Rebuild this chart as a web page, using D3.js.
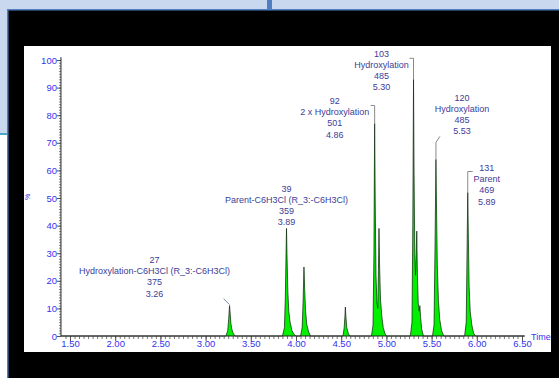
<!DOCTYPE html>
<html>
<head>
<meta charset="utf-8">
<script src="https://cdn.jsdelivr.net/npm/d3@7/dist/d3.min.js"></script>
<style>
  html, body { margin: 0; padding: 0; background: #000; }
  svg { display: block; }
</style>
</head>
<body>
<svg id="chart" width="559" height="378"></svg>
<script>
// ---------------- DATA ----------------
const xTickValues = [1.5, 2.0, 2.5, 3.0, 3.5, 4.0, 4.5, 5.0, 5.5, 6.0, 6.5];
const yTickValues = [0, 10, 20, 30, 40, 50, 60, 70, 80, 90, 100];

// chromatogram trace: [retention time (min), relative intensity (%)]
const trace = [
  [1.40, 0], [3.225, 0], [3.245, 2], [3.255, 6], [3.265, 11], [3.272, 8], [3.28, 4.5], [3.29, 2.5], [3.305, 1], [3.325, 0],
  [3.85, 0], [3.872, 3], [3.882, 14], [3.89, 30], [3.895, 39], [3.90, 30], [3.91, 16], [3.92, 9], [3.935, 5], [3.955, 2], [3.98, 0.5], [4.00, 0],
  [4.05, 0], [4.068, 3], [4.078, 12], [4.088, 25], [4.096, 17], [4.106, 9], [4.12, 4], [4.14, 1.5], [4.16, 0],
  [4.52, 0], [4.533, 3], [4.541, 7], [4.546, 10.5], [4.552, 7], [4.562, 3], [4.58, 0.8], [4.595, 0],
  [4.835, 0], [4.852, 4], [4.862, 30], [4.87, 77], [4.876, 50], [4.885, 22], [4.895, 12], [4.905, 10], [4.912, 24], [4.918, 39], [4.925, 25], [4.935, 13], [4.95, 7], [4.965, 3], [4.985, 0.8], [5.00, 0],
  [5.265, 0], [5.283, 5], [5.292, 40], [5.30, 93], [5.306, 60], [5.314, 30], [5.322, 22], [5.33, 30], [5.336, 38], [5.343, 22], [5.352, 12], [5.362, 9], [5.37, 11], [5.378, 7], [5.39, 2.5], [5.41, 0],
  [5.51, 0], [5.527, 4], [5.537, 30], [5.548, 64], [5.555, 45], [5.563, 26], [5.575, 13], [5.59, 6], [5.61, 2], [5.635, 0],
  [5.865, 0], [5.883, 5], [5.892, 30], [5.90, 52], [5.907, 35], [5.915, 18], [5.927, 9], [5.945, 4], [5.965, 1], [5.985, 0],
  [6.53, 0]
];

// peak annotations
const annTimes  = [3.265, 3.895, 4.87, 5.30, 5.548, 5.90];
const annScans  = ["27", "39", "92", "103", "120", "131"];
const annNames  = ["Hydroxylation-C6H3Cl (R_3:-C6H3Cl)", "Parent-C6H3Cl (R_3:-C6H3Cl)", "2 x Hydroxylation", "Hydroxylation", "Hydroxylation", "Parent"];
const annMasses = ["375", "359", "501", "485", "485", "469"];
const annRTs    = ["3.26", "3.89", "4.86", "5.30", "5.53", "5.89"];

// ---------------- LAYOUT ----------------
// label placement relative to the peak apex (pixels) and leader style
const annLayout = [
  { dx: -75, dy: -46, leader: "diag",  lx1: -6, ly1: -7 },
  { dx: 0,   dy: -40, leader: "none" },
  { dx: -40, dy: -23, leader: "bracketL", by: -18 },
  { dx: -32, dy: -26, leader: "bracketL", by: -21 },
  { dx: 26,  dy: -62, leader: "diagUp", top: -17 },
  { dx: 19,  dy: -25, leader: "bracketR", by: -21 }
];

const svg = d3.select("#chart");
const W = 559, H = 378;

// window background pieces
svg.append("rect").attr("x", 0).attr("y", 0).attr("width", W).attr("height", H).attr("fill", "#000");
svg.append("rect").attr("x", 0).attr("y", 0).attr("width", W).attr("height", 9).attr("fill", "#c9d8ef");
svg.append("rect").attr("x", 0).attr("y", 9).attr("width", W).attr("height", 1.5).attr("fill", "#4f7fc2");
svg.append("rect").attr("x", 0).attr("y", 0).attr("width", 7).attr("height", 134).attr("fill", "#c9d8ef");
svg.append("rect").attr("x", 0).attr("y", 134).attr("width", 7).attr("height", H - 134).attr("fill", "#ffffff");
svg.append("rect").attr("x", 0).attr("y", 133).attr("width", 7).attr("height", 2).attr("fill", "#4aa8c4");
svg.append("rect").attr("x", 7).attr("y", 9).attr("width", 1.5).attr("height", H - 9).attr("fill", "#4f7fc2");
svg.append("rect").attr("x", 267).attr("y", 0).attr("width", 5).attr("height", 9).attr("fill", "#4f7fc2");

// white plot panel
svg.append("rect").attr("x", 24).attr("y", 46).attr("width", 527).attr("height", 306).attr("fill", "#ffffff");

// scales
const x = d3.scaleLinear().domain([1.5, 6.5]).range([70, 522]);
const y = d3.scaleLinear().domain([0, 100]).range([336, 60]);

const axisColor = "#3333ee";
const FONT = "Liberation Sans, Arial, sans-serif";

// chromatogram
const area = d3.area().x(d => x(d[0])).y0(y(0)).y1(d => y(d[1]));
const line = d3.line().x(d => x(d[0])).y(d => y(d[1]));
svg.append("path").datum(trace).attr("d", area).attr("fill", "#00f000");
svg.append("path").datum(trace).attr("d", line).attr("fill", "none")
  .attr("stroke", "#0a200a").attr("stroke-width", 0.7);

// axes
const gx = svg.append("g").attr("transform", `translate(0,${y(0)})`);
gx.call(d3.axisBottom(x).tickValues(d3.range(1.45, 6.54, 0.05)).tickSize(3).tickFormat(""));
gx.selectAll(".tick line").attr("stroke", "#777");
const gxM = svg.append("g").attr("transform", `translate(0,${y(0)})`);
gxM.call(d3.axisBottom(x).tickValues(xTickValues).tickSize(5).tickFormat(d3.format(".2f")));
[gx, gxM].forEach(g => g.select(".domain").remove());
gxM.selectAll(".tick line").attr("stroke", "#555");
gxM.selectAll(".tick text").attr("fill", axisColor).attr("font-family", FONT)
  .attr("font-size", 9.5).attr("dy", "0.55em").attr("y", 6);

const gy = svg.append("g").attr("transform", `translate(${x(1.40)},0)`);
gy.call(d3.axisLeft(y).tickValues(d3.range(0, 100.5, 1)).tickSize(2).tickFormat(""));
gy.selectAll(".tick line").attr("stroke", "#888");
const gyM = svg.append("g").attr("transform", `translate(${x(1.40)},0)`);
gyM.call(d3.axisLeft(y).tickValues(yTickValues).tickSize(4).tickFormat(d3.format("d")));
[gy, gyM].forEach(g => g.select(".domain").remove());
gyM.selectAll(".tick line").attr("stroke", "#555");
gyM.selectAll(".tick text").attr("fill", axisColor).attr("font-family", FONT)
  .attr("font-size", 9.5).attr("x", -4);

// axis lines
svg.append("line").attr("x1", x(1.40)).attr("x2", x(1.40)).attr("y1", y(101)).attr("y2", y(0))
  .attr("stroke", "#222").attr("stroke-width", 1);
svg.append("line").attr("x1", x(1.40)).attr("x2", x(6.53)).attr("y1", y(0)).attr("y2", y(0))
  .attr("stroke", "#222").attr("stroke-width", 1);

svg.append("text").attr("x", 531).attr("y", y(0) + 4).text("Time")
  .attr("fill", axisColor).attr("font-family", FONT).attr("font-size", 9);
svg.append("text").attr("transform", `translate(30,197) rotate(-90)`).attr("text-anchor", "middle").text("%")
  .attr("fill", axisColor).attr("font-family", FONT).attr("font-size", 7);

// annotations
const textColor = "#3d3d98";
const lineH = 11.3;
annTimes.forEach((t, i) => {
  const near = trace.filter(d => Math.abs(d[0] - t) < 0.004);
  const h = d3.max(near, d => d[1]);
  const ax = x(t), ay = y(h);
  const L = annLayout[i];
  const cx = ax + L.dx, cy = ay + L.dy;
  const lines = [annScans[i], annNames[i], annMasses[i], annRTs[i]];
  const g = svg.append("g");
  lines.forEach((s, k) => {
    g.append("text").attr("x", cx).attr("y", cy + k * lineH + 3.2).attr("text-anchor", "middle")
      .attr("fill", textColor).attr("font-family", FONT)
      .attr("font-size", 9).text(s);
  });
  const stroke = "#8a8a8a";
  if (L.leader === "diag") {
    g.append("line").attr("x1", ax + L.lx1).attr("y1", ay + L.ly1).attr("x2", ax).attr("y2", ay - 1)
      .attr("stroke", "#5a6aa0").attr("stroke-width", 0.8);
  } else if (L.leader === "bracketL") {
    g.append("path").attr("d", `M${ax - 4},${ay + L.by} H${ax} V${ay}`)
      .attr("fill", "none").attr("stroke", stroke).attr("stroke-width", 1);
  } else if (L.leader === "bracketR") {
    g.append("path").attr("d", `M${ax + 5},${ay + L.by} H${ax} V${ay}`)
      .attr("fill", "none").attr("stroke", stroke).attr("stroke-width", 1);
  } else if (L.leader === "diagUp") {
    g.append("path").attr("d", `M${ax + 4},${ay + L.top - 6} L${ax},${ay + L.top} V${ay}`)
      .attr("fill", "none").attr("stroke", stroke).attr("stroke-width", 1);
  }
});
</script>
</body>
</html>
